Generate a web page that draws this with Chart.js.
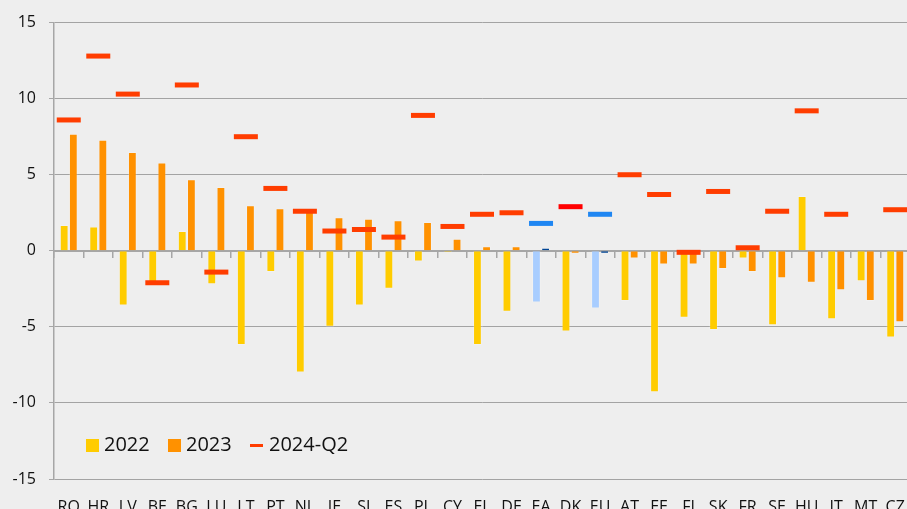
<!DOCTYPE html>
<html>
<head>
<meta charset="utf-8">
<script src="https://cdn.jsdelivr.net/npm/chart.js@4/dist/chart.umd.min.js"></script>
<style>
  html, body { margin: 0; padding: 0; background: #EEEEEE; overflow: hidden; width: 907px; height: 509px; }
  #wrap { position: absolute; left: 0; top: 0; width: 910px; height: 526px; }
  #legend { position: absolute; left: 0; top: 0; font-family: 'Open Sans', sans-serif; font-size: 20px; color: #111; }
  .item { position: absolute; top: 434px; height: 20px; line-height: 20px; white-space: nowrap; }
  .sw { position: absolute; }
  .txt { position: absolute; top: 0; }
</style>
</head>
<body>
<div id="wrap"><canvas id="c" width="910" height="526"></canvas></div>
<div id="legend"></div>
<script>
// ---- data ----
const categories = ['RO','HR','LV','BE','BG','LU','LT','PT','NL','IE','SI','ES','PL','CY','EL','DE','EA','DK','EU','AT','EE','FI','SK','FR','SE','HU','IT','MT','CZ'];
const values2022 = [1.7,1.6,-3.6,-2.3,1.3,-2.2,-6.2,-1.4,-8.0,-5.0,-3.6,-2.5,-0.7,-0.1,-6.2,-4.0,-3.4,-5.3,-3.8,-3.3,-9.3,-4.4,-5.2,-0.5,-4.9,3.6,-4.5,-2.0,-5.7];
const values2023 = [7.7,7.3,6.5,5.8,4.7,4.2,3.0,2.8,2.6,2.2,2.1,2.0,1.9,0.8,0.3,0.3,0.2,-0.2,-0.2,-0.5,-0.9,-0.9,-1.2,-1.4,-1.8,-2.1,-2.6,-3.3,-4.7];
const values2024Q2 = [8.6,12.8,10.3,-2.1,10.9,-1.4,7.5,4.1,2.6,1.3,1.4,0.9,8.9,1.6,2.4,2.5,1.8,2.9,2.4,5.0,3.7,-0.1,3.9,0.2,2.6,9.2,2.4,null,2.7];
const seriesNames = ['2022','2023','2024-Q2'];
const yTicks = [-15,-10,-5,0,5,10,15];
const aggregates = ['EA','EU'];
const highlighted = ['DK'];

// ---- styles ----
const C2022 = '#FFCC00', C2023 = '#FF9100', CQ2 = '#FF3D00';
const A2022 = '#A8CDFF', A2023 = '#004494', AQ2 = '#1F86F2', HQ2 = '#FF0000';
const isAgg = c => aggregates.includes(c);
const col2022 = categories.map(c => isAgg(c) ? A2022 : C2022);
const col2023 = categories.map(c => isAgg(c) ? A2023 : C2023);
const colQ2 = categories.map(c => isAgg(c) ? AQ2 : (highlighted.includes(c) ? HQ2 : CQ2));
const FONT = "'Open Sans', sans-serif";
const noSidePadding = s => { s.paddingLeft = 0; s.paddingRight = 0; };

const chart = new Chart(document.getElementById('c'), {
  type: 'bar',
  data: {
    labels: categories,
    datasets: [
      { type: 'line', label: seriesNames[2], data: values2024Q2, xAxisID: 'x', yAxisID: 'y',
        showLine: false, pointStyle: 'line', pointRadius: 12, pointHoverRadius: 12,
        pointBorderWidth: 5, pointHoverBorderWidth: 5, pointBorderColor: colQ2, pointBackgroundColor: colQ2, order: 0, clip: false },
      { label: seriesNames[0], data: values2022, xAxisID: 'x', yAxisID: 'y', backgroundColor: col2022,
        borderColor: 'rgba(255,255,255,0.2)', borderWidth: 1, categoryPercentage: 0.62, barPercentage: 0.96, order: 1 },
      { label: seriesNames[1], data: values2023, xAxisID: 'x', yAxisID: 'y', backgroundColor: col2023,
        borderColor: 'rgba(255,255,255,0.2)', borderWidth: 1, categoryPercentage: 0.62, barPercentage: 0.96, order: 1 }
    ]
  },
  options: {
    responsive: false,
    animation: false,
    events: [],
    layout: { autoPadding: false, padding: { left: 0, right: 0, top: 20, bottom: 0 } },
    plugins: { legend: { display: false }, tooltip: { enabled: false } },
    scales: {
      x: {
        type: 'category', position: 'bottom', offset: true,
        grid: { display: false, drawTicks: false, offset: true },
        border: { display: false },
        ticks: { font: { family: FONT, size: 16, lineHeight: 3.6 }, color: '#111', padding: 0, maxRotation: 0, autoSkip: false },
        afterFit: s => { s.height = 47; noSidePadding(s); }
      },
      xz: {
        type: 'category', position: { y: 0 }, offset: true,
        grid: { display: true, drawOnChartArea: false, drawTicks: true, tickLength: 6, offset: true, color: '#A6A6A6', lineWidth: 1.5 },
        border: { display: true, color: '#A6A6A6', width: 2 },
        ticks: { display: false, padding: 0 },
        afterFit: s => { noSidePadding(s); }
      },
      y: {
        type: 'linear', position: 'left', min: -15, max: 15,
        afterBuildTicks: s => { s.ticks = yTicks.map(v => ({ value: v })); },
        grid: { color: ctx => (ctx.tick && ctx.tick.value === 0) ? 'rgba(0,0,0,0)' : '#A3A3A3',
                borderDash: [2, 1.5], lineWidth: 1, drawTicks: true, tickLength: 5, tickColor: '#A6A6A6' },
        border: { display: true, color: '#A6A6A6', width: 1.5 },
        ticks: { font: { family: FONT, size: 16 }, color: '#111', padding: 13 },
        afterFit: s => { s.width = 54; }
      }
    }
  }
});

// ---- legend built from the series names ----
const legend = document.getElementById('legend');
const legendItems = [
  { name: seriesNames[0], color: C2022, kind: 'box', x: 86 },
  { name: seriesNames[1], color: C2023, kind: 'box', x: 168 },
  { name: seriesNames[2], color: CQ2, kind: 'line', x: 250 }
];
legendItems.forEach(it => {
  const d = document.createElement('div');
  d.className = 'item';
  d.style.left = it.x + 'px';
  const sw = document.createElement('div');
  sw.className = 'sw';
  sw.style.background = it.color;
  if (it.kind === 'box') { sw.style.left = '0px'; sw.style.top = '5px'; sw.style.width = '13px'; sw.style.height = '13px'; }
  else { sw.style.left = '0px'; sw.style.top = '10px'; sw.style.width = '13px'; sw.style.height = '3px'; }
  const t = document.createElement('span');
  t.className = 'txt';
  t.style.left = (it.kind === 'box' ? 18 : 19) + 'px';
  t.textContent = it.name;
  d.appendChild(sw); d.appendChild(t);
  legend.appendChild(d);
});
</script>
</body>
</html>
